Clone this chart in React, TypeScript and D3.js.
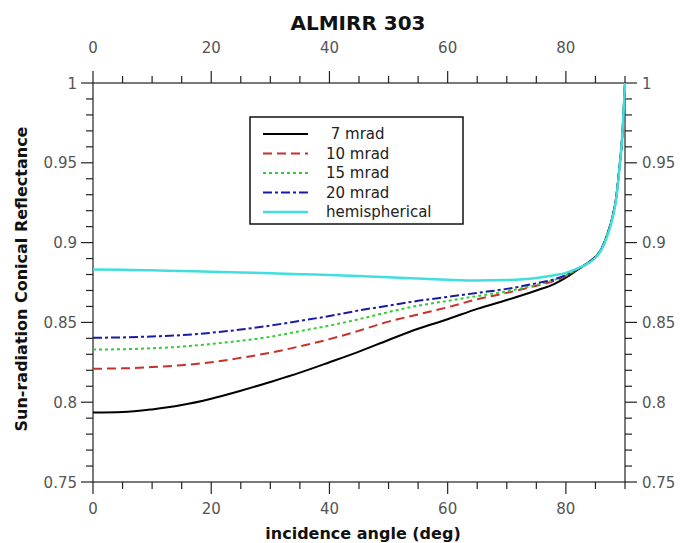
import React from "react";
import * as d3 from "d3";

const angles = [0, 5, 10, 15, 20, 25, 30, 35, 40, 45, 50, 55, 60, 65, 70, 75, 78, 80, 82, 84, 85, 86, 87, 88, 88.5, 89, 89.5, 90];
const tail = [0.888, 0.891, 0.896, 0.905, 0.918, 0.928, 0.945, 0.965, 1.0];
const mrad7 = [0.7935, 0.7938, 0.7955, 0.7982, 0.8022, 0.8072, 0.8127, 0.8185, 0.825, 0.8317, 0.839, 0.846, 0.852, 0.8585, 0.864, 0.87, 0.874, 0.878, 0.883, ...tail];
const mrad10 = [0.821, 0.8212, 0.822, 0.8232, 0.825, 0.8278, 0.831, 0.835, 0.8395, 0.8448, 0.8505, 0.855, 0.8595, 0.8645, 0.8685, 0.873, 0.876, 0.879, 0.8835, ...tail];
const mrad15 = [0.833, 0.8332, 0.8338, 0.8348, 0.8365, 0.8385, 0.841, 0.8445, 0.848, 0.852, 0.8565, 0.8605, 0.8635, 0.8665, 0.8695, 0.8735, 0.8765, 0.8795, 0.8835, ...tail];
const mrad20 = [0.8404, 0.8406, 0.8412, 0.842, 0.8435, 0.8455, 0.848, 0.851, 0.854, 0.8575, 0.8605, 0.8635, 0.866, 0.8685, 0.871, 0.8745, 0.877, 0.8798, 0.8837, ...tail];
const hemispherical = [0.8832, 0.883, 0.8826, 0.8822, 0.8818, 0.8813, 0.8808, 0.8802, 0.8797, 0.879, 0.8783, 0.8775, 0.8767, 0.8762, 0.8765, 0.8778, 0.8795, 0.881, 0.8838, 0.8875, 0.8905, 0.8955, 0.904, 0.917, 0.927, 0.944, 0.965, 1.0];

const seriesNames = [" 7 mrad", "10 mrad", "15 mrad", "20 mrad", "hemispherical"];
const xTicks = [0, 20, 40, 60, 80];
const yTicks = [0.75, 0.8, 0.85, 0.9, 0.95, 1];

const styles = [
  { color: "#000000", dash: "", width: 2 },
  { color: "#c8302c", dash: "9,5", width: 2 },
  { color: "#33cc33", dash: "3,3", width: 2 },
  { color: "#1a1aa6", dash: "9,3,3,3", width: 2 },
  { color: "#40dede", dash: "", width: 2.5 },
];

export default function App() {
  const W = 683, H = 543;
  const L = 93, R = 625, T = 83, B = 482;
  const x = d3.scaleLinear().domain([0, 90]).range([L, R]);
  const y = d3.scaleLinear().domain([0.75, 1]).range([B, T]);
  const data = [mrad7, mrad10, mrad15, mrad20, hemispherical];
  const line = d3.line<[number, number]>().x(d => x(d[0])).y(d => y(d[1])).curve(d3.curveMonotoneX);
  const font = "DejaVu Sans, sans-serif";
  const xMinor = d3.range(0, 91, 5);
  const yMinor = d3.range(0, 26).map(i => 0.75 + i * 0.01);
  const tickColor = "#222";
  const labColor = "#555";
  return (
    <svg width={W} height={H} style={{ position: "absolute", left: 0, top: 0, background: "#fff" }} fontFamily={font}>
      <rect x={0} y={0} width={W} height={H} fill="#fff" />
      <rect x={L} y={T} width={R - L} height={B - T} fill="none" stroke={tickColor} strokeWidth={1.2} />
      {xMinor.map(v => {
        const major = v % 20 === 0;
        const len = major ? 12 : 7;
        return (
          <g key={"xt" + v} stroke={tickColor} strokeWidth={1.2}>
            <line x1={x(v)} x2={x(v)} y1={B} y2={B + len} />
            <line x1={x(v)} x2={x(v)} y1={T} y2={T - len} />
          </g>
        );
      })}
      {yMinor.map((v, i) => {
        const major = i % 5 === 0;
        const len = major ? 12 : 7;
        return (
          <g key={"yt" + i} stroke={tickColor} strokeWidth={1.2}>
            <line x1={L} x2={L - len} y1={y(v)} y2={y(v)} />
            <line x1={R} x2={R + len} y1={y(v)} y2={y(v)} />
          </g>
        );
      })}
      {xTicks.map(v => (
        <g key={"xl" + v} fill={labColor} fontSize={15} textAnchor="middle">
          <text x={x(v)} y={514}>{v}</text>
          <text x={x(v)} y={53}>{v}</text>
        </g>
      ))}
      {yTicks.map(v => (
        <g key={"yl" + v} fill={labColor} fontSize={15}>
          <text x={L - 16} y={y(v) + 5.5} textAnchor="end">{+v.toFixed(2)}</text>
          <text x={R + 17} y={y(v) + 5.5} textAnchor="start">{+v.toFixed(2)}</text>
        </g>
      ))}
      <text x={358} y={30} textAnchor="middle" fontSize={20} fontWeight="bold" fill="#111">ALMIRR 303</text>
      <text x={363} y={539} textAnchor="middle" fontSize={16} fontWeight="bold" fill="#111">incidence angle (deg)</text>
      <text transform={`translate(27,279) rotate(-90)`} textAnchor="middle" fontSize={16} fontWeight="bold" fill="#111">Sun-radiation Conical Reflectance</text>
      <g>
        {data.map((vals, i) => (
          <path key={"s" + i} d={line(angles.map((a, j) => [a, vals[j]] as [number, number])) || ""} fill="none"
            stroke={styles[i].color} strokeWidth={styles[i].width} strokeDasharray={styles[i].dash} />
        ))}
      </g>
      <g>
        <rect x={250} y={117} width={213} height={107} fill="#fff" stroke="#111" strokeWidth={1.5} />
        {seriesNames.map((n, i) => {
          const cy = 134 + i * 19.5;
          return (
            <g key={"lg" + i}>
              <line x1={263} x2={308} y1={cy} y2={cy} stroke={styles[i].color} strokeWidth={styles[i].width} strokeDasharray={styles[i].dash} />
              <text x={326} y={cy + 5} fontSize={15} fill="#222" style={{ whiteSpace: "pre" }}>{n}</text>
            </g>
          );
        })}
      </g>
    </svg>
  );
}
